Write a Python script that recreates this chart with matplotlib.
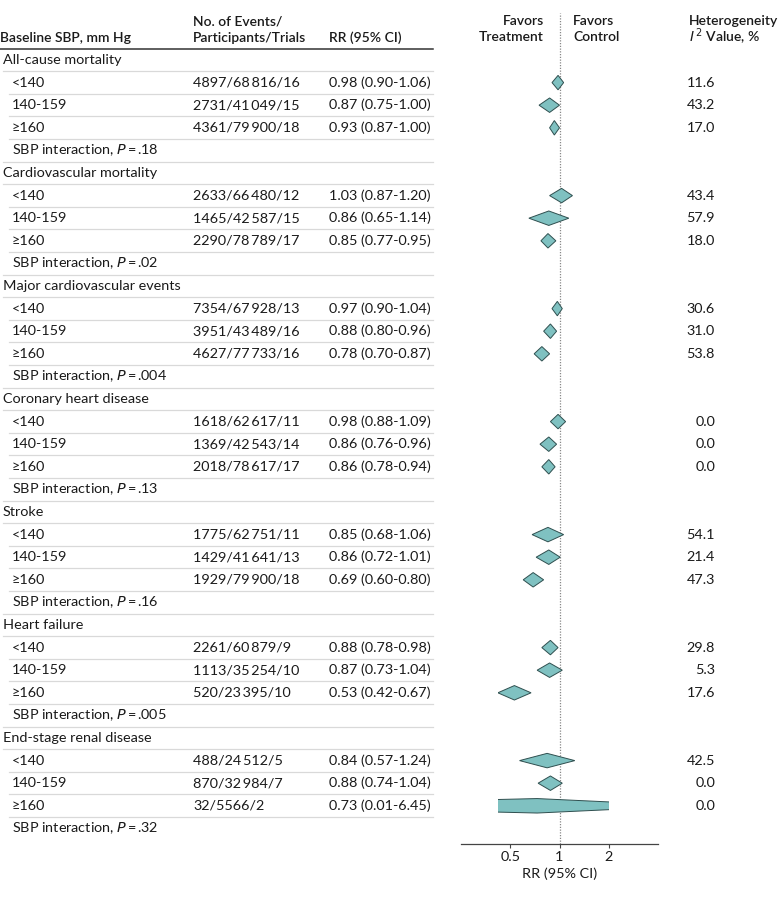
import matplotlib.pyplot as plt
from matplotlib.patches import Polygon, Rectangle
from matplotlib.ticker import FixedLocator, NullLocator
import numpy as np

plt.rcParams['font.family'] = ['Lato', 'DejaVu Sans']

# Datos
groups = ['All-cause mortality', 'Cardiovascular mortality', 'Major cardiovascular events',
          'Coronary heart disease', 'Stroke', 'Heart failure', 'End-stage renal disease']
sbp_levels = ['<140', '140-159', '\u2265160']
events = [['4897/68\u2009816/16', '2731/41\u2009049/15', '4361/79\u2009900/18'],
          ['2633/66\u2009480/12', '1465/42\u2009587/15', '2290/78\u2009789/17'],
          ['7354/67\u2009928/13', '3951/43\u2009489/16', '4627/77\u2009733/16'],
          ['1618/62\u2009617/11', '1369/42\u2009543/14', '2018/78\u2009617/17'],
          ['1775/62\u2009751/11', '1429/41\u2009641/13', '1929/79\u2009900/18'],
          ['2261/60\u2009879/9', '1113/35\u2009254/10', '520/23\u2009395/10'],
          ['488/24\u2009512/5', '870/32\u2009984/7', '32/5566/2']]
rr = [[0.98, 0.87, 0.93], [1.03, 0.86, 0.85], [0.97, 0.88, 0.78], [0.98, 0.86, 0.86],
      [0.85, 0.86, 0.69], [0.88, 0.87, 0.53], [0.84, 0.88, 0.73]]
lo = [[0.90, 0.75, 0.87], [0.87, 0.65, 0.77], [0.90, 0.80, 0.70], [0.88, 0.76, 0.78],
      [0.68, 0.72, 0.60], [0.78, 0.73, 0.42], [0.57, 0.74, 0.01]]
hi = [[1.06, 1.00, 1.00], [1.20, 1.14, 0.95], [1.04, 0.96, 0.87], [1.09, 0.96, 0.94],
      [1.06, 1.01, 0.80], [0.98, 1.04, 0.67], [1.24, 1.04, 6.45]]
i2 = [['11.6', '43.2', '17.0'], ['43.4', '57.9', '18.0'], ['30.6', '31.0', '53.8'],
      ['0.0', '0.0', '0.0'], ['54.1', '21.4', '47.3'], ['29.8', '5.3', '17.6'],
      ['42.5', '0.0', '0.0']]
p_inter = ['.18', '.02', '.004', '.13', '.16', '.005', '.32']

W, H = 780, 897
Y0, DY = 60, 22.6
fs = 10.4     # cuerpo
fh = 10.0     # encabezados
tc = '#1a1a1a'

fig = plt.figure(figsize=(W / 100, H / 100), dpi=100)

# Eje de tabla en pixeles
tab = fig.add_axes([0, 0, 1, 1])
tab.set_xlim(0, W)
tab.set_ylim(H, 0)
tab.axis('off')

hw = 'semibold'
tab.text(0, 38, 'Baseline SBP, mm Hg', fontsize=fh, va='center', weight=hw, color=tc)
tab.text(193, 22, 'No. of Events/', fontsize=fh, va='center', weight=hw, color=tc)
tab.text(193, 38, 'Participants/Trials', fontsize=fh, va='center', weight=hw, color=tc)
tab.text(329, 38, 'RR (95% CI)', fontsize=fh, va='center', weight=hw, color=tc)
tab.text(544, 21, 'Favors', fontsize=fh, va='center', ha='right', weight=hw, color=tc)
tab.text(544, 37, 'Treatment', fontsize=fh, va='center', ha='right', weight=hw, color=tc)
tab.text(573, 21, 'Favors', fontsize=fh, va='center', weight=hw, color=tc)
tab.text(573, 37, 'Control', fontsize=fh, va='center', weight=hw, color=tc)
tab.text(689, 21, 'Heterogeneity', fontsize=fh, va='center', weight=hw, color=tc)
tab.text(689, 37, r'$I^{\,2}$ Value, %', fontsize=fh, va='center', weight=hw, color=tc)
tab.plot([0, 433], [49, 49], color='#333333', lw=1.1)

rows = []
for g in range(len(groups)):
    base = g * 5
    y = Y0 + base * DY
    tab.text(3, y, groups[g], fontsize=fs, va='center', color=tc)
    tab.plot([3, 433], [y + DY / 2, y + DY / 2], color='#d9d9d9', lw=0.9)
    for k in range(3):
        y = Y0 + (base + 1 + k) * DY
        tab.text(12, y, sbp_levels[k], fontsize=fs, va='center', color=tc)
        tab.text(193, y, events[g][k], fontsize=fs, va='center', color=tc)
        tab.text(329, y, '%.2f (%.2f-%.2f)' % (rr[g][k], lo[g][k], hi[g][k]), fontsize=fs,
                 va='center', color=tc)
        tab.text(715, y, i2[g][k], fontsize=fs, va='center', ha='right', color=tc)
        tab.plot([9, 433], [y + DY / 2, y + DY / 2], color='#d9d9d9', lw=0.9)
        rows.append((base + 1 + k, rr[g][k], lo[g][k], hi[g][k]))
    y = Y0 + (base + 4) * DY
    tab.text(12, y, 'SBP interaction, $\\it{P}$\u2009=\u2009' + p_inter[g], fontsize=fs,
             va='center', color=tc)
    if g < len(groups) - 1:
        tab.plot([3, 433], [y + DY / 2, y + DY / 2], color='#d9d9d9', lw=0.9)

# Forest plot
top_px, bot_px = 13, 844
ax = fig.add_axes([461 / W, 1 - bot_px / H, (658 - 461) / W, (bot_px - top_px) / H])
ax.set_xscale('log')
ax.set_xlim(0.25, 4)
ax.set_ylim((bot_px - Y0) / DY, (top_px - Y0) / DY)
ax.patch.set_alpha(0)
for s in ['top', 'right', 'left']:
    ax.spines[s].set_visible(False)
ax.spines['bottom'].set_color('#444444')
ax.spines['bottom'].set_linewidth(0.9)
ax.yaxis.set_major_locator(NullLocator())
ax.xaxis.set_major_locator(FixedLocator([0.5, 1, 2]))
ax.xaxis.set_minor_locator(NullLocator())
ax.set_xticklabels(['0.5', '1', '2'])
ax.tick_params(axis='x', length=3, width=0.8, color='#444444', labelsize=fs, labelcolor=tc, pad=2)
ax.set_xlabel('RR (95% CI)', fontsize=fs, labelpad=3, color=tc)
ax.axvline(1, color='#888888', lw=0.9, linestyle=(0, (1, 1.2)), zorder=1)

clip = Rectangle((0.42, -5), 2 - 0.42, 50, transform=ax.transData, visible=False)
ax.add_patch(clip)
hh = 0.32
for (r, m, l, h) in rows:
    d = Polygon([[l, r], [m, r - hh], [h, r], [m, r + hh]], closed=True,
                facecolor='#7fc1c1', edgecolor='#2f4f4f', lw=0.7, zorder=3)
    ax.add_patch(d)
    d.set_clip_path(clip)

plt.savefig('out.png', dpi=100)
